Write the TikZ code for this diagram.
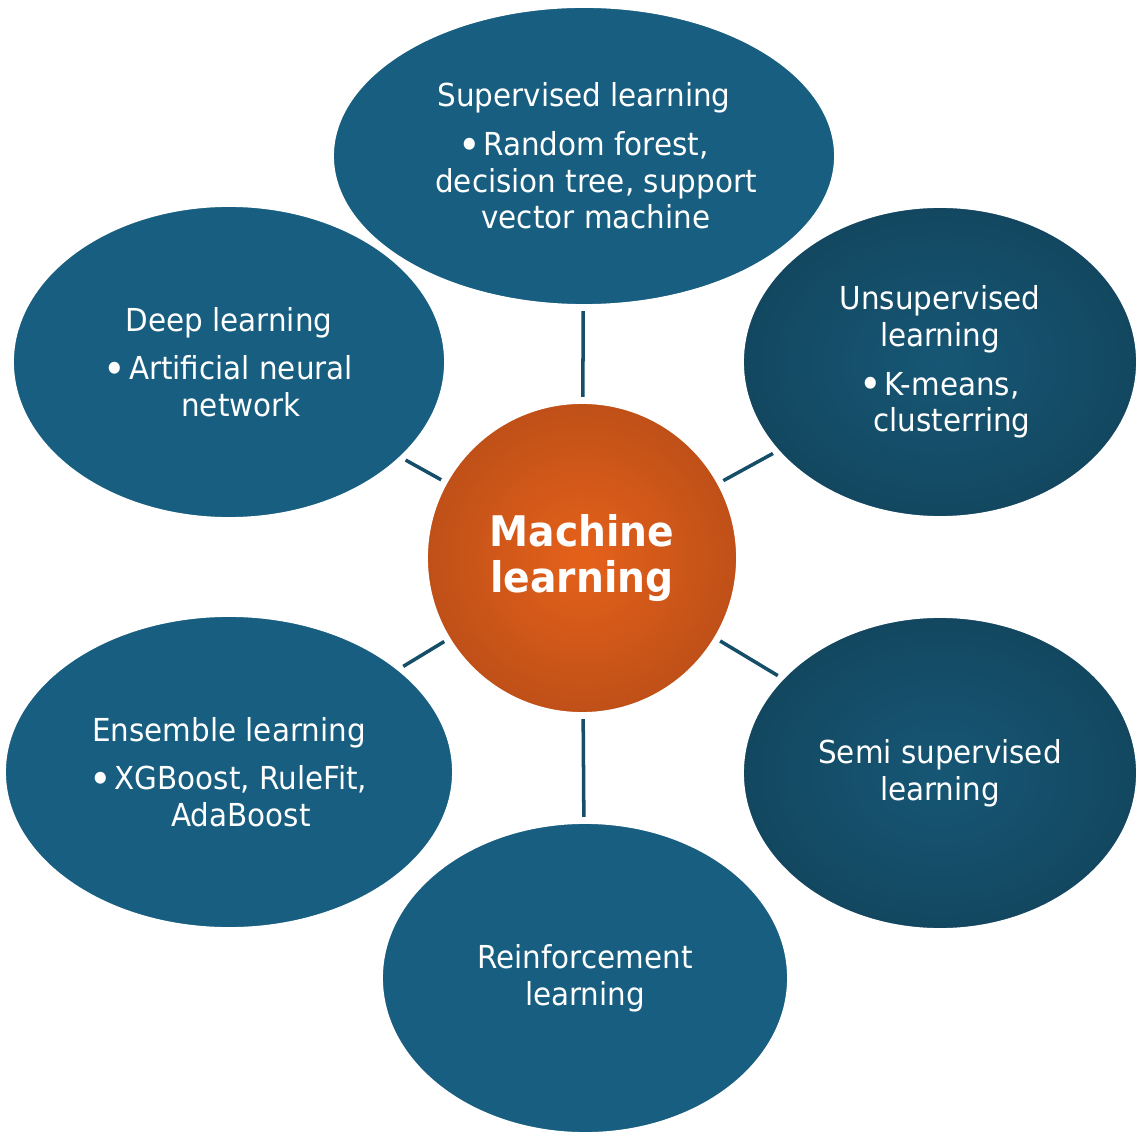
\documentclass[tikz,border=0pt]{standalone}
\usepackage{fontspec}
\setmainfont{DejaVu Sans}[FakeStretch=0.93]
\usepackage{graphicx}
\usepackage{tikz}
\usetikzlibrary{shapes.geometric}
\usepackage{xcolor}

\definecolor{tealfill}{RGB}{23,94,128}
\definecolor{tealmid}{RGB}{22,87,117}
\definecolor{tealdark}{RGB}{19,71,96}
\definecolor{linkcol}{RGB}{21,78,104}
\definecolor{orangein}{RGB}{229,97,26}
\definecolor{orangeout}{RGB}{191,80,24}

\newcommand{\itemind}{\hspace*{0.48cm}}
\newcommand{\itembul}{\hspace*{0.48cm}\llap{\raisebox{-2pt}{\scalebox{1.3}{\textbullet}}\hspace{1.5pt}}}

\tikzset{
  blob/.style={ellipse, draw=white, line width=1pt, fill=tealfill, text=white,
    inner sep=0pt, align=center, font=\fontsize{18}{20.8}\selectfont},
  darkblob/.style={blob, inner color=tealmid, outer color=tealdark},
  hub/.style={circle, draw=white, line width=1pt, inner color=orangein,
    outer color=orangeout, text=white, inner sep=0pt, align=center,
    minimum size=6.2cm, font=\bfseries\fontsize{24}{26.7}\selectfont},
  link/.style={draw=linkcol, line width=2pt, shorten <=3pt, shorten >=3pt}
}

\begin{document}
\begin{tikzpicture}[x=0.02cm, y=-0.02cm]
\useasboundingbox (0,0) rectangle (1141,1141);

% Centre circle
\node[hub] (ml) at (582,558) {Machine\\learning};

% The six kinds of learning round it
\node[blob, minimum width=10.04cm, minimum height=5.96cm] (sup) at (584,156)
  {Supervised learning\\[7pt]\itembul Random forest,\\\itemind decision tree, support\\\itemind vector machine};
\node[blob, minimum width=8.64cm, minimum height=6.24cm] (deep) at (229,362)
  {Deep learning\\[7pt]\itembul Artificial neural\\\itemind network};
\node[darkblob, minimum width=7.88cm, minimum height=6.2cm] (unsup) at (940,362)
  {Unsupervised\\learning\\[7pt]\itembul K-means,\\\itemind clusterring};
\node[blob, minimum width=8.96cm, minimum height=6.24cm] (ens) at (229,772)
  {Ensemble learning\\[7pt]\itembul XGBoost, RuleFit,\\\itemind AdaBoost};
\node[darkblob, minimum width=7.88cm, minimum height=6.24cm] (semi) at (940,773)
  {Semi supervised\\learning};
\node[blob, minimum width=8.12cm, minimum height=6.2cm] (reinf) at (585,978)
  {Reinforcement\\learning};

% Spokes from the centre
\foreach \t in {sup,unsup,semi,reinf,ens,deep} {
    \draw[link] (ml) -- (\t);
}
\end{tikzpicture}
\end{document}
